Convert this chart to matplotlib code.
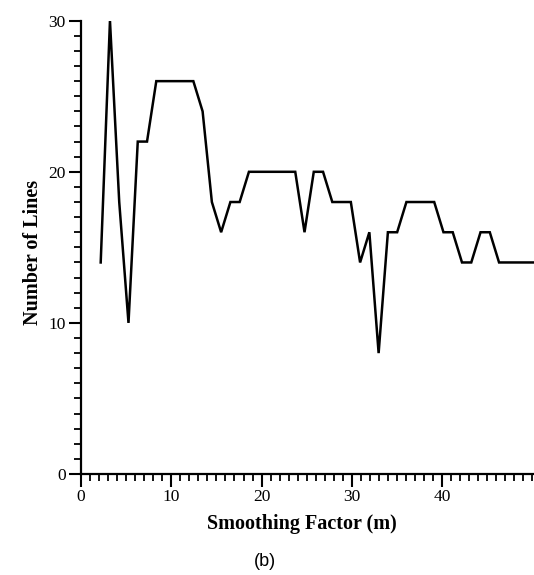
import matplotlib
matplotlib.use("Agg")
import matplotlib.pyplot as plt
import numpy as np

# smoothing factor m and number of lines found
m = list(range(2, 50))
lines = [14, 30, 18, 10, 22, 22, 26, 26, 26, 26, 26, 24, 18, 16, 18, 18,
         20, 20, 20, 20, 20, 20, 16, 20, 20, 18, 18, 18, 14, 16, 8, 16,
         16, 18, 18, 18, 18, 16, 16, 14, 14, 16, 16, 14, 14, 14, 14, 14]

x_ticks = [0, 10, 20, 30, 40]
y_ticks = [0, 10, 20, 30]

# the printed axis is a bit off from the data grid: label L sits at m = (L - 0.13) / 1.026
def lab2m(v):
    return (np.asarray(v, dtype=float) - 0.13) / 1.026

serif = ['Liberation Serif', 'DejaVu Serif']

fig = plt.figure(figsize=(5.34, 5.75), dpi=100)
ax = fig.add_axes([81/534, 101/575, 453/534, 453.3/575])

ax.plot(m, lines, color='black', lw=1.8, solid_joinstyle='miter')

ax.set_xlim(lab2m(0), lab2m(50.17))
ax.set_ylim(0, 30)

ax.set_xticks(lab2m(x_ticks))
ax.set_xticklabels([str(t) for t in x_ticks])
ax.set_xticks(lab2m(np.arange(0, 51)), minor=True)
ax.set_yticks(y_ticks)
ax.set_yticks(np.arange(0, 31), minor=True)

for s in ['top', 'right']:
    ax.spines[s].set_visible(False)
for s in ['left', 'bottom']:
    ax.spines[s].set_linewidth(1.6)

ax.tick_params(which='major', length=9, width=1.5, labelsize=12.5, pad=2)
ax.tick_params(which='minor', length=5, width=1.3)
for lbl in ax.get_xticklabels() + ax.get_yticklabels():
    lbl.set_family(serif)

ax.set_xlabel('Smoothing Factor (m)', family=serif, fontweight='bold', fontsize=14.5, va='center')
ax.set_ylabel('Number of Lines', family=serif, fontweight='bold', fontsize=14.5, va='center')
ax.xaxis.set_label_coords(0.487, -0.110)
ax.yaxis.set_label_coords(-0.106, 0.489)

fig.text(265/534, 1 - 562/575, '(b)', ha='center', va='center', fontsize=13,
         family=['Liberation Sans', 'DejaVu Sans'])

fig.savefig('out.png', dpi=100)
